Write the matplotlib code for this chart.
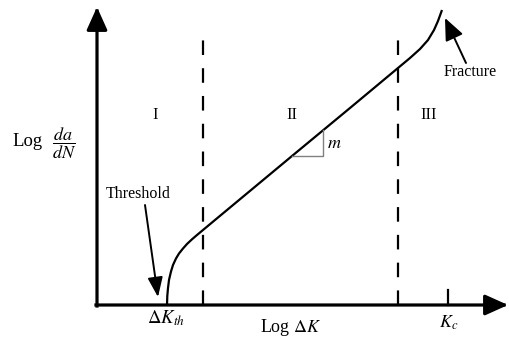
import matplotlib
matplotlib.use("Agg")
import matplotlib.pyplot as plt
from matplotlib.patches import FancyArrowPatch

plt.rcParams['font.family'] = ['Liberation Serif', 'DejaVu Serif']
plt.rcParams['mathtext.fontset'] = 'stix'
plt.rcParams['lines.scale_dashes'] = False

# ---- data (diagram coordinates, pixel-like units, y grows downward) ----
curve_x = [167, 167.3, 168, 169, 171, 173, 176, 179, 183, 187, 192, 197, 203, 209,
           215, 292, 350, 380, 398, 410, 420, 428, 434, 438, 442]
curve_y = [305, 296, 288, 280, 271.5, 265, 258.5, 253.5, 248.5, 244, 239.3, 235, 230, 225,
           220, 156, 108, 83, 68, 58, 49, 40, 30, 21, 10]
boundary_x = [203, 398]
region_labels = ["I", "II", "III"]
region_x = [155, 292, 429]
region_y = 115
kc_x = 448
slope_tri_x = [292, 323, 323]
slope_tri_y = [156, 156, 130]

W, H = 509, 339
fig = plt.figure(figsize=(W / 100, H / 100), dpi=100)
ax = fig.add_axes([0, 0, 1, 1])
ax.set_xlim(0, W)
ax.set_ylim(H, 0)
ax.axis('off')

x0, y0 = 97, 305

# axes with arrowheads
for start, end in [((x0, y0 + 1), (x0, 7)), ((x0 - 1, y0), (508, y0))]:
    ax.add_patch(FancyArrowPatch(start, end, arrowstyle='-|>,head_length=14,head_width=6.3',
                                 mutation_scale=1, lw=2.3, color='black',
                                 shrinkA=0, shrinkB=0, capstyle='projecting'))

# dashed region boundaries
for bx in boundary_x:
    ax.plot([bx, bx], [y0, 40], color='black', lw=1.6, linestyle=(0, (10.5, 9.5)))

# Kc tick
ax.plot([kc_x, kc_x], [y0, 290], color='black', lw=1.6)

# crack growth curve
ax.plot(curve_x, curve_y, color='black', lw=1.6, solid_capstyle='butt',
        solid_joinstyle='round')

# slope triangle
ax.plot(slope_tri_x, slope_tri_y, color='#808080', lw=1.0)
ax.text(327, 143, "$m$", fontsize=13, ha='left', va='center')

# region labels
for lab, rx in zip(region_labels, region_x):
    ax.text(rx, region_y, lab, fontsize=12, ha='center', va='center')

# annotations
ax.text(138, 194, "Threshold", fontsize=11.5, ha='center', va='center')
ax.add_patch(FancyArrowPatch((145, 205), (158, 297), arrowstyle='-|>,head_length=12,head_width=4.6',
                             mutation_scale=1, lw=1.4, color='black', shrinkA=0, shrinkB=0))
ax.text(470, 72, "Fracture", fontsize=11.5, ha='center', va='center')
ax.add_patch(FancyArrowPatch((466, 63), (445, 18), arrowstyle='-|>,head_length=13.5,head_width=5.8',
                             mutation_scale=1, lw=1.4, color='black', shrinkA=0, shrinkB=0))

# axis labels
ax.text(12, 141, "Log", fontsize=13.5, ha='left', va='center')
ax.text(52, 143, r"$\dfrac{da}{dN}$", fontsize=13, ha='left', va='center')
ax.text(291, 327, r"Log $\Delta K$", fontsize=13, ha='center', va='center')
ax.text(166, 318, r"$\Delta K_{th}$", fontsize=13.5, ha='center', va='center')
ax.text(449, 323, r"$K_c$", fontsize=13, ha='center', va='center')

fig.savefig("out.png", dpi=100)
